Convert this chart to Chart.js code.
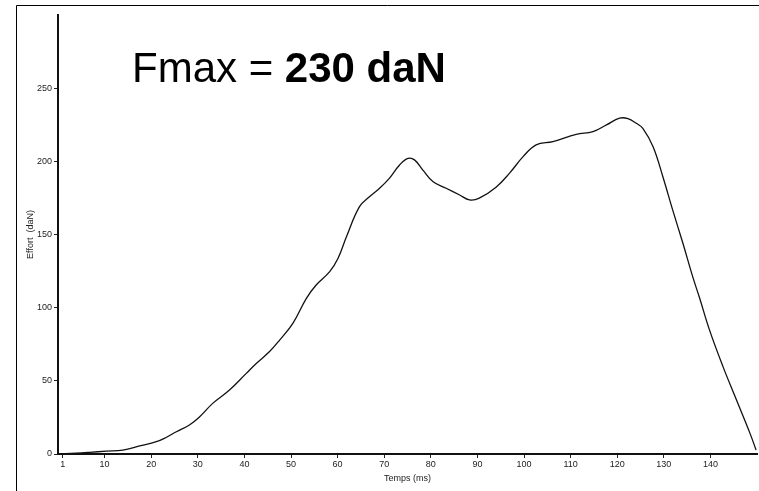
<!DOCTYPE html>
<html>
<head>
<meta charset="utf-8">
<script src="https://cdn.jsdelivr.net/npm/chart.js@4/dist/chart.umd.min.js"></script>
<style>
  html, body { margin: 0; padding: 0; background: #ffffff; }
  #wrap { position: relative; width: 759px; height: 491px; }
</style>
</head>
<body>
<div id="wrap"><canvas id="c" width="759" height="491"></canvas></div>
<script>
// Temps (ms)
const times = [0, 3.9, 6.8, 10.4, 13.9, 17.5, 21.1, 23.2, 25.4, 28.2, 30.4, 33.2, 36.8, 40.4, 42.6, 45.4, 47.6, 50.4, 53.3, 55.4, 58.3, 60.1, 61.9, 64.7, 66.9, 69, 71.1, 73.3, 75.1, 76.5, 78.3, 80.5, 83.3, 86.2, 88.3, 90.4, 94, 96.9, 99.8, 102.6, 106.2, 111.2, 114.8, 117.7, 120.5, 122.3, 124.1, 125.5, 127.7, 129.8, 131.9, 134.1, 136.2, 137.7, 139.8, 142.7, 145.6, 148.5, 149.8];
// Effort (daN)
const efforts = [0, 0.5, 1.1, 2, 2.7, 5.5, 8.4, 11.3, 15.2, 19.8, 25.5, 34.6, 43.7, 55.1, 62, 70, 78, 89.3, 106.4, 115.5, 124.6, 133.8, 148.5, 169, 176, 181.6, 188.4, 197.5, 202, 201, 194, 186, 181.6, 177, 173.6, 174.8, 182.3, 191.9, 203.2, 211.2, 213.5, 218.5, 220.3, 224.9, 229.5, 229.2, 226, 222.6, 210, 189.5, 166.8, 144, 121.2, 106.4, 84.8, 59.7, 36.9, 14.1, 2.7];
const xTickValues = [1, 10, 20, 30, 40, 50, 60, 70, 80, 90, 100, 110, 120, 130, 140];
const yTickValues = [0, 50, 100, 150, 200, 250];
const annotationNormal = 'Fmax = ';
const annotationBold = '230 daN';
const xTitle = 'Temps (ms)';
const yTitle = 'Effort  (daN)';

const points = times.map((t, i) => ({ x: t, y: efforts[i] }));

const tickFont = { family: '"Liberation Sans Narrow", "Liberation Sans", Arial, sans-serif', size: 9 };

const framePlugin = {
  id: 'frame',
  beforeDraw(chart) {
    const ctx = chart.ctx;
    ctx.save();
    ctx.fillStyle = '#ffffff';
    ctx.fillRect(0, 0, chart.width, chart.height);
    ctx.strokeStyle = '#000000';
    ctx.lineWidth = 1;
    ctx.beginPath();
    ctx.moveTo(16.5, chart.height);
    ctx.lineTo(16.5, 5.5);
    ctx.lineTo(chart.width, 5.5);
    ctx.stroke();
    ctx.restore();
  },
  afterDraw(chart) {
    const ctx = chart.ctx;
    ctx.save();
    ctx.fillStyle = '#000000';
    ctx.textBaseline = 'alphabetic';
    ctx.textAlign = 'left';
    ctx.font = '42px "Liberation Sans", Arial, sans-serif';
    const x0 = 132, y0 = 82;
    ctx.fillText(annotationNormal, x0, y0);
    const w = ctx.measureText(annotationNormal).width;
    ctx.font = 'bold 42px "Liberation Sans", Arial, sans-serif';
    ctx.fillText(annotationBold, x0 + w, y0);
    ctx.restore();
  }
};

new Chart(document.getElementById('c'), {
  type: 'line',
  data: {
    datasets: [{
      data: points,
      borderColor: '#111111',
      borderWidth: 1.3,
      pointRadius: 0,
      fill: false,
      tension: 0.4
    }]
  },
  options: {
    responsive: false,
    animation: false,
    events: [],
    layout: { padding: { left: 0, right: 2, top: 15, bottom: 0 } },
    plugins: { legend: { display: false }, tooltip: { enabled: false } },
    scales: {
      x: {
        type: 'linear',
        min: 0,
        max: 150,
        afterBuildTicks(scale) { scale.ticks = xTickValues.map(v => ({ value: v })); },
        afterFit(scale) { scale.height = 37; },
        border: { display: true, color: '#111111', width: 2 },
        grid: { display: true, drawOnChartArea: false, drawTicks: true, tickLength: 4, color: '#222222', tickWidth: 1 },
        ticks: { font: tickFont, color: '#222222', padding: 1, maxRotation: 0, autoSkip: false },
        title: { display: true, text: xTitle, font: tickFont, color: '#222222', padding: { top: 0, bottom: 7 } }
      },
      y: {
        type: 'linear',
        min: 0,
        max: 300,
        afterBuildTicks(scale) { scale.ticks = yTickValues.map(v => ({ value: v })); },
        afterFit(scale) { scale.width = 58; },
        border: { display: true, color: '#111111', width: 2 },
        grid: { display: true, drawOnChartArea: false, drawTicks: true, tickLength: 4, color: '#222222', tickWidth: 1 },
        ticks: { font: tickFont, color: '#222222', padding: 2, autoSkip: false },
        title: { display: true, text: yTitle, font: tickFont, color: '#222222', padding: { top: 25, bottom: 0 } }
      }
    }
  },
  plugins: [framePlugin]
});
</script>
</body>
</html>
